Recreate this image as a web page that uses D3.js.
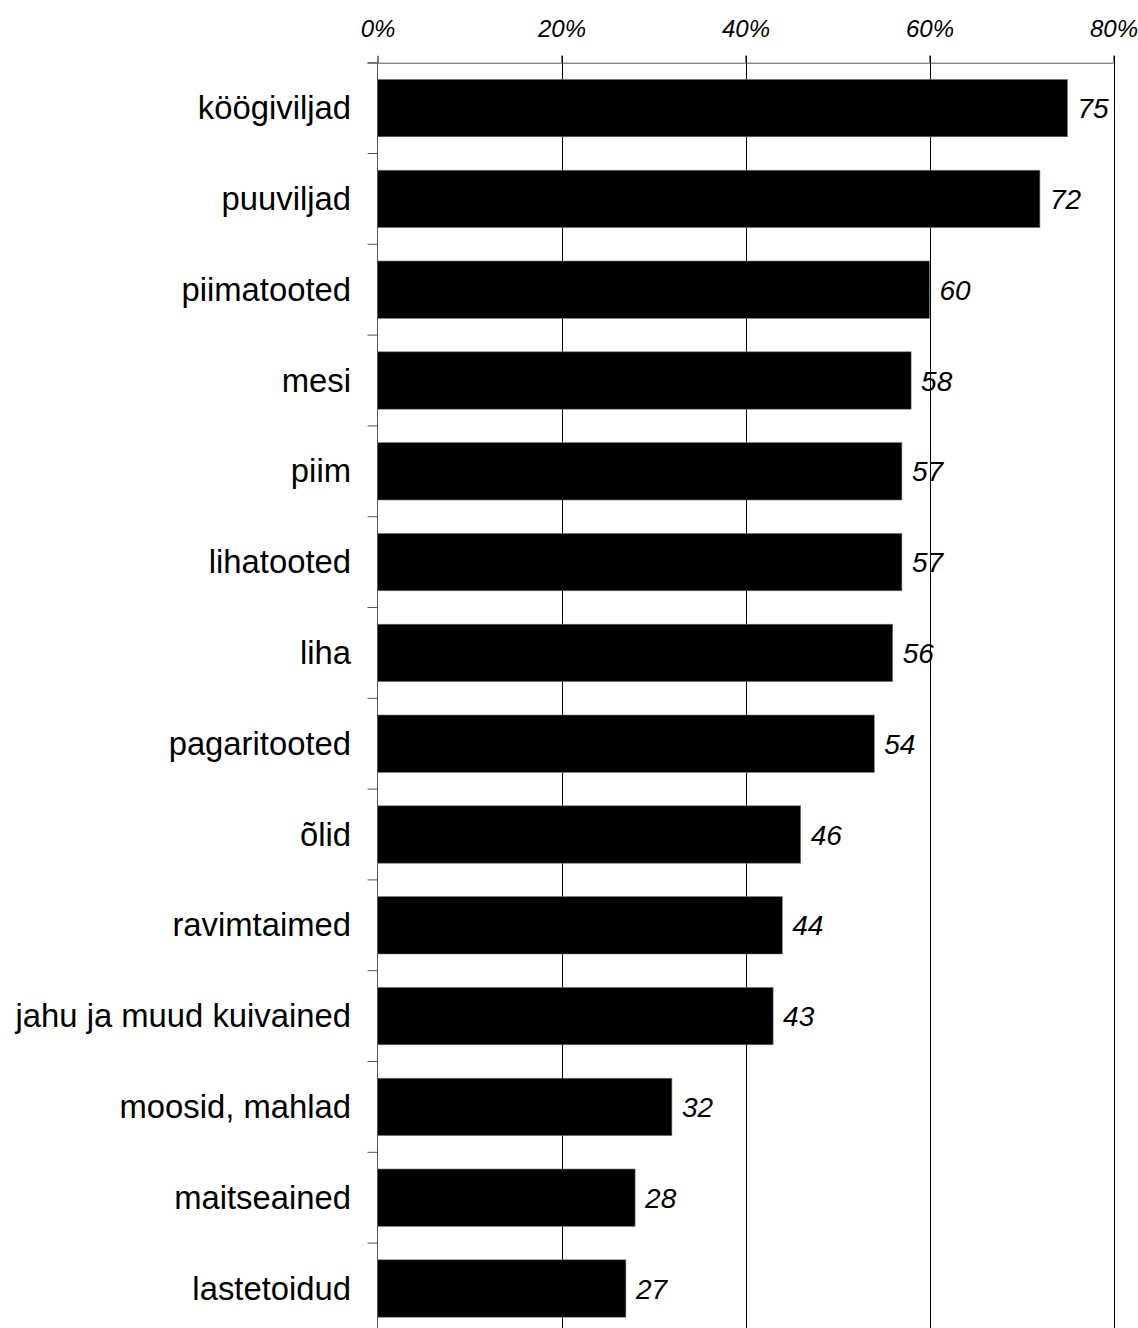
<!DOCTYPE html>
<html>
<head>
<meta charset="utf-8">
<script src="https://cdn.jsdelivr.net/npm/d3@7"></script>
<style>
  html, body { margin: 0; padding: 0; background: #fff; }
  svg { display: block; font-family: "Liberation Sans", Arial, sans-serif; }
</style>
</head>
<body>
<svg id="chart" width="1138" height="1328"></svg>
<script>
const categories = ["köögiviljad","puuviljad","piimatooted","mesi","piim","lihatooted","liha","pagaritooted","õlid","ravimtaimed","jahu ja muud kuivained","moosid, mahlad","maitseained","lastetoidud"];
const values = [75,72,60,58,57,57,56,54,46,44,43,32,28,27];
const tickValues = [0,20,40,60,80];
const tickLabels = ["0%","20%","40%","60%","80%"];

const svg = d3.select("#chart");
const plotLeft = 377.5, plotRight = 1113.5, plotTop = 62.7;
const step = 90.8;
const plotBottom = plotTop + step * categories.length;

const x = d3.scaleLinear().domain([0, 80]).range([plotLeft, plotRight]);
const y = d3.scaleBand().domain(categories).range([plotTop, plotBottom]).paddingInner(0.368).paddingOuter(0.184);

// gridlines
svg.append("g").selectAll("line").data(tickValues.slice(1)).join("line")
  .attr("x1", d => Math.round(x(d)) + 0.5).attr("x2", d => Math.round(x(d)) + 0.5)
  .attr("y1", plotTop - 7).attr("y2", 1328)
  .attr("stroke", "#000").attr("stroke-width", 1);

// bars
svg.append("g").selectAll("rect").data(values).join("rect")
  .attr("x", x(0))
  .attr("y", (d, i) => y(categories[i]))
  .attr("width", d => x(d) - x(0))
  .attr("height", y.bandwidth())
  .attr("fill", "#000")
  .attr("stroke", "#777").attr("stroke-width", 0.6);

// top axis
const xAxis = d3.axisTop(x).tickValues(tickValues).tickFormat((d, i) => tickLabels[i]).tickSize(7).tickPadding(19);
const gx = svg.append("g").attr("transform", `translate(0,${plotTop})`).call(xAxis);
gx.attr("font-size", 24).attr("font-family", "Liberation Sans, Arial, sans-serif");
gx.select(".domain").attr("stroke", "#555").attr("d", `M${plotLeft - 10},0.5H${plotRight}`);
gx.selectAll(".tick line").attr("stroke", "#000");
gx.selectAll(".tick text").style("font-size", "24px").attr("font-style", "italic")
  .attr("fill", "#000");

// left axis line
svg.append("line").attr("x1", plotLeft).attr("x2", plotLeft).attr("y1", plotTop).attr("y2", 1328)
  .attr("stroke", "#555").attr("stroke-width", 1);

// left ticks at band boundaries
svg.append("g").selectAll("line").data(d3.range(categories.length + 1)).join("line")
  .attr("x1", plotLeft - 10).attr("x2", plotLeft)
  .attr("y1", i => plotTop + i * y.step()).attr("y2", i => plotTop + i * y.step())
  .attr("stroke", "#555").attr("stroke-width", 1);

// category labels
svg.append("g").selectAll("text").data(categories).join("text")
  .attr("x", plotLeft - 26.5)
  .attr("y", d => y(d) + y.bandwidth() / 2 + 11)
  .attr("text-anchor", "end")
  .attr("font-size", 32.8)
  .attr("fill", "#000")
  .text(d => d);

// value labels
svg.append("g").selectAll("text").data(values).join("text")
  .attr("x", d => x(d) + 10)
  .attr("y", (d, i) => y(categories[i]) + y.bandwidth() / 2 + 10)
  .attr("font-size", 28)
  .attr("font-style", "italic")
  .attr("fill", "#000")
  .text(d => d);
</script>
</body>
</html>
